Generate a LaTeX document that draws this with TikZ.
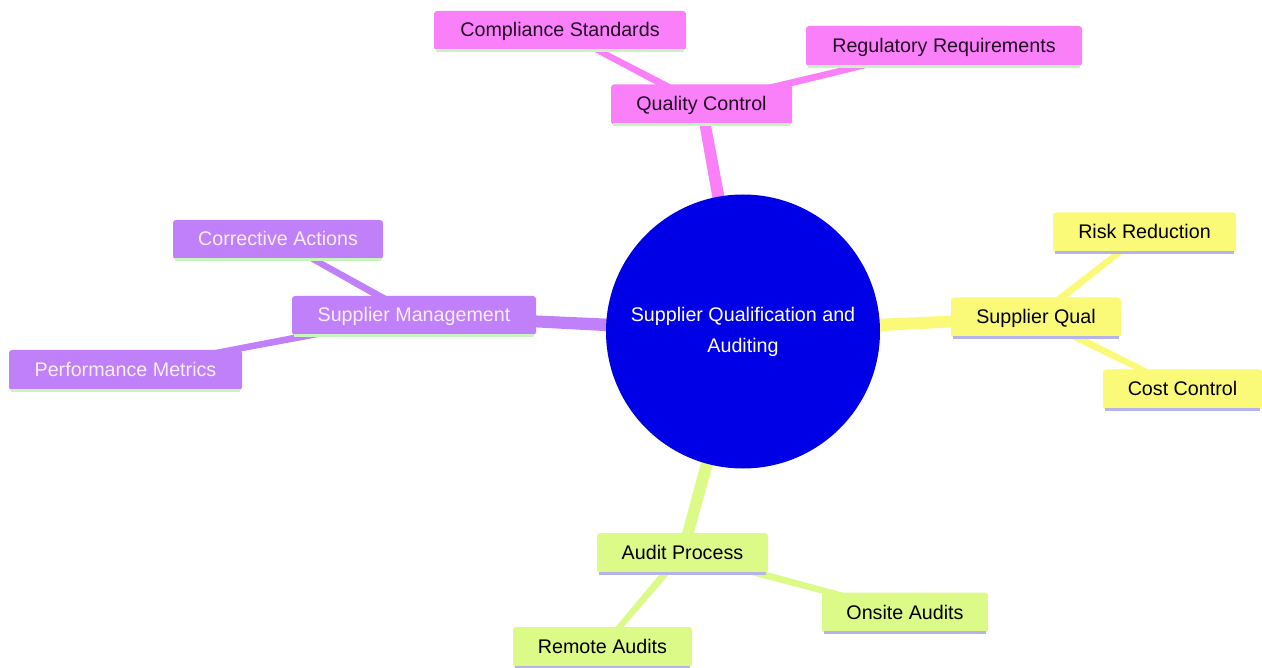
\documentclass[tikz,border=0pt]{standalone}
\usepackage{fontspec}
\setmainfont{Liberation Sans}
\usetikzlibrary{calc,backgrounds}
\definecolor{rootblue}{RGB}{0,0,230}
\definecolor{cpink}{RGB}{250,128,250}
\definecolor{cpurple}{RGB}{192,128,250}
\definecolor{cyellow}{RGB}{250,250,120}
\definecolor{clime}{RGB}{220,250,135}
\definecolor{lgreen}{RGB}{200,245,190}
\definecolor{lav}{RGB}{180,180,235}
\definecolor{darktext}{RGB}{35,10,35}
\definecolor{lighttext}{RGB}{250,238,255}
\newcommand\tedge[5]{\fill[#5] ($(#1.center)!#3!90:(#2.center)$) -- ($(#1.center)!#3!-90:(#2.center)$) -- ($(#2.center)!#4!90:(#1.center)$) -- ($(#2.center)!#4!-90:(#1.center)$) -- cycle;}
\begin{document}
\begin{tikzpicture}[x=1pt,y=-1pt,
  box/.style={rectangle, rounded corners=3pt, minimum height=40pt, inner sep=0pt,
    text height=13pt, text depth=0pt, font=\fontsize{19.7}{23}\selectfont},
  pinkbox/.style={box, fill=cpink, text=darktext},
  purplebox/.style={box, fill=cpurple, text=lighttext},
  yellowbox/.style={box, fill=cyellow, text=black},
  limebox/.style={box, fill=clime, text=black}]
\useasboundingbox (0,0) rectangle (1262,668);
% root
\node[circle, fill=rootblue, minimum size=274pt, inner sep=0pt, text=white, align=center,
  font=\fontsize{19.7}{31}\selectfont] (root) at (743,331.5) {Supplier Qualification and\\Auditing};
% level 1
\node[pinkbox, minimum width=181pt] (qc) at (701.5,104.5) {Quality Control};
\node[yellowbox, minimum width=170pt] (sq) at (1036,317.5) {Supplier Qual};
\node[purplebox, minimum width=244pt, minimum height=39pt] (sm) at (414,315.5) {Supplier Management};
\node[limebox, minimum width=171pt] (ap) at (682.5,553) {Audit Process};
% level 2
\node[pinkbox, minimum width=252pt, minimum height=39pt] (cs) at (560,30.5) {Compliance Standards};
\node[pinkbox, minimum width=276pt] (rr) at (944,46) {Regulatory Requirements};
\node[yellowbox, minimum width=183pt] (rk) at (1144.5,232.5) {Risk Reduction};
\node[yellowbox, minimum width=159pt] (cc) at (1182.5,389.5) {Cost Control};
\node[purplebox, minimum width=210pt, minimum height=39pt] (ca) at (278,239.5) {Corrective Actions};
\node[purplebox, minimum width=233pt] (pm) at (125.5,370) {Performance Metrics};
\node[limebox, minimum width=166pt] (oa) at (905,612.5) {Onsite Audits};
\node[limebox, minimum width=179pt] (ra) at (602.5,647) {Remote Audits};
% bottom accent lines
\foreach \n in {qc,cs,rr,sm,ca,pm}
  \draw[line width=3pt, lgreen] ([xshift=2pt]\n.south west) -- ([xshift=-2pt]\n.south east);
\foreach \n in {sq,rk,cc,ap,oa,ra}
  \draw[line width=3pt, lav] ([xshift=2pt]\n.south west) -- ([xshift=-2pt]\n.south east);
% connectors
\begin{scope}[on background layer]
  \tedge{root}{qc}{6.8pt}{5.5pt}{cpink}
  \tedge{root}{sq}{6.8pt}{5.5pt}{cyellow}
  \tedge{root}{sm}{6.8pt}{5.5pt}{cpurple}
  \tedge{root}{ap}{6.8pt}{5.5pt}{clime}
  \tedge{qc}{cs}{3.8pt}{2.8pt}{cpink}
  \tedge{qc}{rr}{3.8pt}{2.8pt}{cpink}
  \tedge{sq}{rk}{3.8pt}{2.8pt}{cyellow}
  \tedge{sq}{cc}{3.8pt}{2.8pt}{cyellow}
  \tedge{sm}{ca}{3.8pt}{2.8pt}{cpurple}
  \tedge{sm}{pm}{3.8pt}{2.8pt}{cpurple}
  \tedge{ap}{oa}{3.8pt}{2.8pt}{clime}
  \tedge{ap}{ra}{3.8pt}{2.8pt}{clime}
\end{scope}
\end{tikzpicture}
\end{document}
